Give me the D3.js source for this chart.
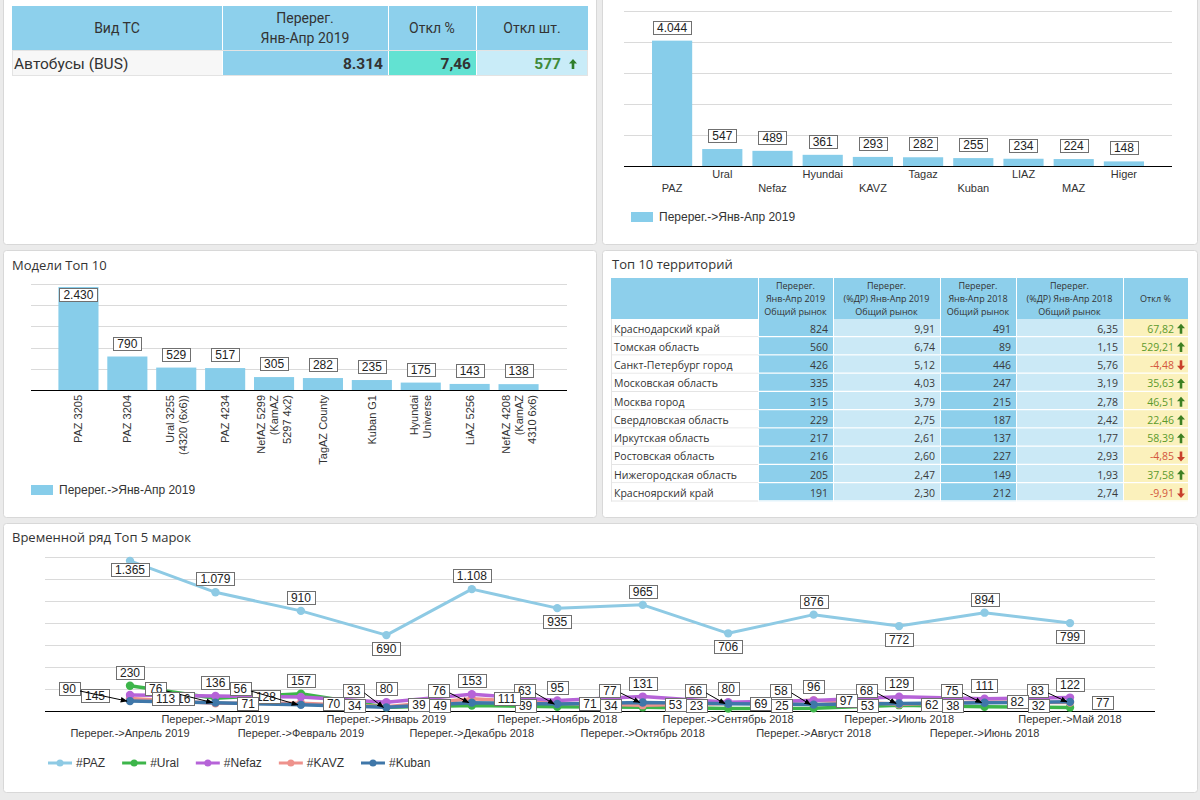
<!DOCTYPE html>
<html><head><meta charset="utf-8">
<script src="https://cdn.jsdelivr.net/npm/d3@7"></script>
<style>
html,body{margin:0;padding:0;background:#ebebeb;}
svg{display:block;}
</style></head><body>
<svg id="c" width="1200" height="800"></svg>
<script>
// ---------------- DATA ----------------
const kpiHeaders = ["Вид ТС", "Перерег.\nЯнв-Апр 2019", "Откл %", "Откл шт."];
const kpiCategory = ["Автобусы (BUS)"];
const kpiTotal = [8314];
const kpiDeltaPct = [7.46];
const kpiDeltaUnits = [577];

const brands = ["PAZ","Ural","Nefaz","Hyundai","KAVZ","Tagaz","Kuban","LIAZ","MAZ","Higer"];
const brandValues = [4044,547,489,361,293,282,255,234,224,148];
const brandTicks = [0,1000,2000,3000,4000,5000];

const models = ["PAZ 3205","PAZ 3204","Ural 3255\n(4320 (6x6))","PAZ 4234","NefAZ 5299\n(KamAZ\n5297 4x2)","TagAZ County","Kuban G1","Hyundai\nUniverse","LiAZ 5256","NefAZ 4208\n(KamAZ\n4310 6x6)"];
const modelValues = [2430,790,529,517,305,282,235,175,143,138];
const modelTicks = [0,500,1000,1500,2000,2500];

const legendLabel = "Перерег.->Янв-Апр 2019";

const territoryHeaders = ["", "Перерег.\nЯнв-Апр 2019\nОбщий рынок", "Перерег.\n(%ДР) Янв-Апр 2019\nОбщий рынок", "Перерег.\nЯнв-Апр 2018\nОбщий рынок", "Перерег.\n(%ДР) Янв-Апр 2018\nОбщий рынок", "Откл %"];
const regions = ["Краснодарский край","Томская область","Санкт-Петербург город","Московская область","Москва город","Свердловская область","Иркутская область","Ростовская область","Нижегородская область","Красноярский край"];
const reg2019 = [824,560,426,335,315,229,217,216,205,191];
const share2019 = [9.91,6.74,5.12,4.03,3.79,2.75,2.61,2.60,2.47,2.30];
const reg2018 = [491,89,446,247,215,187,137,227,149,212];
const share2018 = [6.35,1.15,5.76,3.19,2.78,2.42,1.77,2.93,1.93,2.74];
const regDeltaPct = [67.82,529.21,-4.48,35.63,46.51,22.46,58.39,-4.85,37.58,-9.91];

const tsPrefix = "Перерег.->";
const tsMonths = ["Апрель 2019","Март 2019","Февраль 2019","Январь 2019","Декабрь 2018","Ноябрь 2018","Октябрь 2018","Сентябрь 2018","Август 2018","Июль 2018","Июнь 2018","Май 2018"];
const tsPAZ   = [1365,1079,910,690,1108,935,965,706,876,772,894,799];
const tsUral  = [230,116,157,34,49,39,34,23,25,53,38,32];
const tsNefaz = [145,136,128,80,153,95,131,80,96,129,111,122];
const tsKAVZ  = [113,71,70,39,111,71,53,69,97,62,82,77];
const tsKuban = [90,76,56,33,76,63,77,66,58,68,75,83];
const tsSeriesNames = ["#PAZ","#Ural","#Nefaz","#KAVZ","#Kuban"];
const tsTicks = [0,200,400,600,800,1000,1200,1400];

// ---------------- STYLE ----------------
const CF = "'Liberation Sans', Arial, sans-serif";
const TF = "'Open Sans', sans-serif";
const RF = "Roboto, sans-serif";
const BAR = "#87cdea";
const GRID = "#dadada";
const TXT = "#333";
const seriesColors = ["#8ecae4","#3db54a","#b663d8","#ee928c","#3f77a9"];

const ru = d3.formatLocale({decimal:",", thousands:".", grouping:[3], currency:["",""], minus:"-"});
const fInt = ru.format(",d");
const f2 = ru.format(",.2f");

const svg = d3.select("#c");
svg.append("rect").attr("width",1200).attr("height",800).attr("fill","#ebebeb");

const defs = svg.append("defs");
defs.append("marker").attr("id","arr").attr("viewBox","0 0 10 10").attr("refX",9).attr("refY",5)
  .attr("markerWidth",7).attr("markerHeight",7).attr("orient","auto")
  .append("path").attr("d","M0,1 L10,5 L0,9 Z").attr("fill","#000");

// panels
const panels = [[3,-6,593,250],[602,-6,595,250],[3,250,593,267],[602,250,595,267],[3,523,1194,269]];
svg.selectAll("rect.panel").data(panels).join("rect").attr("class","panel")
  .attr("x",d=>d[0]+0.5).attr("y",d=>d[1]+0.5).attr("width",d=>d[2]).attr("height",d=>d[3])
  .attr("rx",3).attr("fill","#fff").attr("stroke","#d8d8d8");

function arrowGlyph(g, x, y, up, color){
  const p = up
    ? `M${x-4},${y-0.5} L${x},${y-5} L${x+4},${y-0.5} Z M${x-1.3},${y-1} h2.6 v6 h-2.6 Z`
    : `M${x-4},${y+0.5} L${x},${y+5} L${x+4},${y+0.5} Z M${x-1.3},${y+1} h2.6 v-6 h-2.6 Z`;
  g.append("path").attr("d",p).attr("fill",color);
}

function boxLabel(g, txt, o){
  const grp = g.append("g");
  const t = grp.append("text").attr("font-family",CF).attr("font-size",12).attr("fill","#222")
    .attr("text-anchor","middle").attr("dominant-baseline","central").text(txt);
  const w = t.node().getComputedTextLength() + 8, h = 13;
  let cx = o.cx;
  if (o.left != null) cx = o.left + w/2;
  if (o.right != null) cx = o.right - w/2;
  let cy = o.cy;
  if (o.bottom != null) cy = o.bottom - h/2;
  if (o.top != null) cy = o.top + h/2;
  t.attr("x",cx).attr("y",cy+0.5);
  grp.insert("rect","text").attr("x",Math.round(cx-w/2)+0.5).attr("y",Math.round(cy-h/2)+0.5)
    .attr("width",Math.round(w)).attr("height",h).attr("fill","#fff").attr("stroke","#707070");
  return {x0:cx-w/2, x1:cx+w/2, y0:cy-h/2, y1:cy+h/2, cx, cy};
}

// ---------------- KPI TABLE ----------------
(function(){
  const g = svg.append("g");
  const cols = [12,222,388,476,588];
  const hy0 = 6, hy1 = 50, ry1 = 76;
  const headFill = "#8dd0ec";
  kpiHeaders.forEach((h,i)=>{
    g.append("rect").attr("x",cols[i]).attr("y",hy0).attr("width",cols[i+1]-cols[i]).attr("height",hy1-hy0).attr("fill",headFill);
    const lines = h.split("\n");
    lines.forEach((l,j)=>{
      g.append("text").attr("x",(cols[i]+cols[i+1])/2).attr("y",(hy0+hy1)/2 + (j-(lines.length-1)/2)*20)
        .attr("text-anchor","middle").attr("dominant-baseline","central")
        .attr("font-family",RF).attr("font-size",14).attr("fill",TXT).text(l);
    });
  });
  cols.slice(1,-1).forEach(x=>g.append("line").attr("x1",x+0.5).attr("x2",x+0.5).attr("y1",hy0).attr("y2",hy1).attr("stroke","#fff"));
  const fills = ["#f7f7f7","#8dd0ec","#62e2d2","#c9ecf8"];
  fills.forEach((f,i)=>g.append("rect").attr("x",cols[i]).attr("y",hy1).attr("width",cols[i+1]-cols[i]).attr("height",ry1-hy1).attr("fill",f));
  cols.slice(1,-1).forEach(x=>g.append("line").attr("x1",x+0.5).attr("x2",x+0.5).attr("y1",hy1).attr("y2",ry1).attr("stroke","#fff"));
  g.append("rect").attr("x",cols[0]+0.5).attr("y",hy1+0.5).attr("width",cols[4]-cols[0]-1).attr("height",ry1-hy1-1).attr("fill","none").attr("stroke","#e3e3e3");
  const cy = (hy1+ry1)/2 + 1;
  g.append("text").attr("x",14).attr("y",cy).attr("dominant-baseline","central").attr("font-family",RF).attr("font-size",15.5).attr("fill",TXT).text(kpiCategory[0]);
  g.append("text").attr("x",cols[2]-5).attr("y",cy).attr("text-anchor","end").attr("dominant-baseline","central").attr("font-family",RF).attr("font-weight","bold").attr("font-size",15.5).attr("fill",TXT).text(fInt(kpiTotal[0]));
  g.append("text").attr("x",cols[3]-5).attr("y",cy).attr("text-anchor","end").attr("dominant-baseline","central").attr("font-family",RF).attr("font-weight","bold").attr("font-size",15.5).attr("fill",TXT).text(f2(kpiDeltaPct[0]));
  g.append("text").attr("x",cols[4]-27).attr("y",cy).attr("text-anchor","end").attr("dominant-baseline","central").attr("font-family",RF).attr("font-weight","bold").attr("font-size",15.5).attr("fill","#3f8a3a").text(fInt(kpiDeltaUnits[0]));
  arrowGlyph(g, cols[4]-15, cy, kpiDeltaUnits[0]>=0, "#2f7d2a");
})();

// ---------------- BRAND BAR CHART ----------------
(function(){
  const g = svg.append("g");
  const x = d3.scaleBand().domain(brands).range([647,1149]).paddingInner(0.2).paddingOuter(0.1);
  const y = d3.scaleLinear().domain([0,5000]).range([166,11]);
  g.selectAll("line.grid").data(brandTicks.slice(1)).join("line")
    .attr("x1",624).attr("x2",1172).attr("y1",d=>Math.round(y(d))+0.5).attr("y2",d=>Math.round(y(d))+0.5).attr("stroke",GRID);
  g.selectAll("rect.bar").data(brands).join("rect")
    .attr("x",d=>x(d)).attr("width",x.bandwidth())
    .attr("y",(d,i)=>y(brandValues[i])).attr("height",(d,i)=>y(0)-y(brandValues[i])).attr("fill",BAR);
  g.append("line").attr("x1",624).attr("x2",1172).attr("y1",166.5).attr("y2",166.5).attr("stroke","#000");
  brands.forEach((b,i)=>{
    boxLabel(g, fInt(brandValues[i]), {cx:x(b)+x.bandwidth()/2, bottom:y(brandValues[i])-7});
    g.append("text").attr("x",x(b)+x.bandwidth()/2).attr("y",i%2===0?188:174)
      .attr("text-anchor","middle").attr("dominant-baseline","central")
      .attr("font-family",CF).attr("font-size",11).attr("fill",TXT).text(b);
  });
  g.append("rect").attr("x",631).attr("y",212).attr("width",22).attr("height",10).attr("fill",BAR);
  g.append("text").attr("x",659).attr("y",217).attr("dominant-baseline","central")
    .attr("font-family",CF).attr("font-size",12).attr("fill",TXT).text(legendLabel);
})();

// ---------------- MODEL BAR CHART ----------------
(function(){
  const g = svg.append("g");
  g.append("text").attr("x",12).attr("y",265).attr("dominant-baseline","central")
    .attr("font-family",TF).attr("font-size",13).attr("fill",TXT).text("Модели Топ 10");
  const x = d3.scaleBand().domain(models).range([54,543]).paddingInner(0.18).paddingOuter(0.09);
  const y = d3.scaleLinear().domain([0,2500]).range([390,284]);
  g.selectAll("line.grid").data(modelTicks.slice(1)).join("line")
    .attr("x1",31).attr("x2",567).attr("y1",d=>Math.round(y(d))+0.5).attr("y2",d=>Math.round(y(d))+0.5).attr("stroke",GRID);
  g.selectAll("rect.bar").data(models).join("rect")
    .attr("x",d=>x(d)).attr("width",x.bandwidth())
    .attr("y",(d,i)=>y(modelValues[i])).attr("height",(d,i)=>y(0)-y(modelValues[i])).attr("fill",BAR);
  g.append("line").attr("x1",31).attr("x2",567).attr("y1",390.5).attr("y2",390.5).attr("stroke","#000");
  models.forEach((m,i)=>{
    const cx = x(m)+x.bandwidth()/2;
    const top = y(modelValues[i]);
    if (top - 7 - 13 < y(2500) - 2) boxLabel(g, fInt(modelValues[i]), {cx, top:top+1});
    else boxLabel(g, fInt(modelValues[i]), {cx, bottom:top-7});
    const lines = m.split("\n");
    const lg = g.append("g").attr("transform",`translate(${cx},395) rotate(-90)`);
    lines.forEach((l,j)=>{
      lg.append("text").attr("x",0).attr("y",(j-(lines.length-1)/2)*13)
        .attr("text-anchor","end").attr("dominant-baseline","central")
        .attr("font-family",CF).attr("font-size",11).attr("fill",TXT).text(l);
    });
  });
  g.append("rect").attr("x",31).attr("y",485).attr("width",22).attr("height",10).attr("fill",BAR);
  g.append("text").attr("x",59).attr("y",490).attr("dominant-baseline","central")
    .attr("font-family",CF).attr("font-size",12).attr("fill",TXT).text(legendLabel);
})();

// ---------------- TERRITORY TABLE ----------------
(function(){
  const g = svg.append("g");
  g.append("text").attr("x",612).attr("y",264).attr("dominant-baseline","central")
    .attr("font-family",TF).attr("font-size",13).attr("fill",TXT).text("Топ 10 территорий");
  const cols = [611,758,833,940,1016,1123,1188];
  const hy0 = 278, hy1 = 319, rh = 18.25;
  const headFill = "#8dcfeb";
  const colFill = ["#ffffff","#8dcfeb","#cbe9f6","#8dcfeb","#cbe9f6","#fbf1bc"];
  territoryHeaders.forEach((h,i)=>{
    g.append("rect").attr("x",cols[i]).attr("y",hy0).attr("width",cols[i+1]-cols[i]).attr("height",hy1-hy0).attr("fill",headFill);
    const lines = h ? h.split("\n") : [];
    lines.forEach((l,j)=>{
      g.append("text").attr("x",(cols[i]+cols[i+1])/2).attr("y",(hy0+hy1)/2+(j-(lines.length-1)/2)*13.3)
        .attr("text-anchor","middle").attr("dominant-baseline","central")
        .attr("font-family",TF).attr("font-size",9).attr("fill",TXT).text(l);
    });
  });
  cols.slice(1,-1).forEach(xx=>g.append("line").attr("x1",xx+0.5).attr("x2",xx+0.5).attr("y1",hy0).attr("y2",hy1).attr("stroke","#fff"));
  const rows = regions.map((r,i)=>[r, fInt(reg2019[i]), f2(share2019[i]), fInt(reg2018[i]), f2(share2018[i]), regDeltaPct[i]]);
  rows.forEach((row,ri)=>{
    const ry = hy1 + ri*rh;
    const cy = ry + rh/2 + 0.5;
    row.forEach((val,ci)=>{
      g.append("rect").attr("x",cols[ci]).attr("y",ry).attr("width",cols[ci+1]-cols[ci]).attr("height",rh).attr("fill",colFill[ci]);
    });
    g.append("line").attr("x1",cols[0]).attr("x2",cols[1]).attr("y1",ry+rh-0.5).attr("y2",ry+rh-0.5).attr("stroke","#e4e4e4");
    g.append("line").attr("x1",cols[1]).attr("x2",cols[6]).attr("y1",ry+rh-0.5).attr("y2",ry+rh-0.5).attr("stroke","#fff").attr("stroke-width",1.5);
    row.forEach((val,ci)=>{
      if (ci===0){
        g.append("text").attr("x",cols[0]+3).attr("y",cy).attr("dominant-baseline","central")
          .attr("font-family",TF).attr("font-size",10.5).attr("fill",TXT).text(val);
      } else if (ci<5){
        g.append("text").attr("x",cols[ci+1]-5).attr("y",cy).attr("text-anchor","end").attr("dominant-baseline","central")
          .attr("font-family",TF).attr("font-size",10.5).attr("fill","#3a3a3a").text(val);
      } else {
        const pos = val>=0;
        g.append("text").attr("x",cols[6]-14).attr("y",cy).attr("text-anchor","end").attr("dominant-baseline","central")
          .attr("font-family",TF).attr("font-size",10.5).attr("fill",pos?"#5c9a2c":"#d3573c").text(f2(val));
        arrowGlyph(g, cols[6]-7, cy, pos, pos?"#3d7f22":"#c8402c");
      }
    });
    cols.slice(1,-1).forEach(xx=>g.append("line").attr("x1",xx+0.5).attr("x2",xx+0.5).attr("y1",ry).attr("y2",ry+rh).attr("stroke","#fff"));
  });
  g.append("line").attr("x1",cols[0]+0.5).attr("x2",cols[0]+0.5).attr("y1",hy1).attr("y2",hy1+10*rh).attr("stroke","#e4e4e4");
})();

// ---------------- TIME SERIES ----------------
(function(){
  const g = svg.append("g");
  g.append("text").attr("x",12).attr("y",537).attr("dominant-baseline","central")
    .attr("font-family",TF).attr("font-size",13).attr("fill",TXT).text("Временной ряд Топ 5 марок");
  const x = d3.scalePoint().domain(tsMonths).range([130,1070]);
  const y = d3.scaleLinear().domain([0,1400]).range([711,557]);
  g.selectAll("line.grid").data(tsTicks.slice(1)).join("line")
    .attr("x1",45).attr("x2",1155).attr("y1",d=>Math.round(y(d))+0.5).attr("y2",d=>Math.round(y(d))+0.5).attr("stroke",GRID);
  g.append("line").attr("x1",45).attr("x2",1155).attr("y1",711.5).attr("y2",711.5).attr("stroke","#000");

  tsMonths.forEach((m,i)=>{
    g.append("text").attr("x",x(m)).attr("y",i%2===0?733:719).attr("text-anchor","middle").attr("dominant-baseline","central")
      .attr("font-family",CF).attr("font-size",11).attr("fill",TXT).text(tsPrefix+m);
  });

  const series = [tsPAZ, tsUral, tsNefaz, tsKAVZ, tsKuban];
  const drawOrder = [0,1,3,2,4];
  const line = d3.line().x((d,i)=>x(tsMonths[i])).y(d=>y(d));
  drawOrder.forEach(si=>{
    g.append("path").datum(series[si]).attr("d",line).attr("fill","none")
      .attr("stroke",seriesColors[si]).attr("stroke-width",si===0?3:3.5).attr("stroke-linejoin","round");
    g.selectAll(null).data(series[si]).join("circle")
      .attr("cx",(d,i)=>x(tsMonths[i])).attr("cy",d=>y(d)).attr("r",4.2).attr("fill",seriesColors[si]);
  });

  const lg = g.append("g");
  tsPAZ.forEach((v,i)=>{
    const prev = tsPAZ[i-1], next = tsPAZ[i+1];
    const isMin = (prev===undefined || v<prev) && (next===undefined || v<next);
    const xi = x(tsMonths[i]);
    if (!isMin && y(v)-7-13 >= 550) boxLabel(lg, fInt(v), {cx:xi, bottom:y(v)-7});
    else if (!isMin) boxLabel(lg, fInt(v), {cx:xi, top:y(v)+2});
    else boxLabel(lg, fInt(v), {cx:xi, top:y(v)+7});
  });
  const befores = [], arrows = [], tops = [], afters = [];
  tsMonths.forEach((m,i)=>{
    const xi = x(m);
    const u = tsUral[i], n = tsNefaz[i];
    tops.push({v:Math.max(u,n), xi});
    befores.push({v:Math.min(u,n), xi});
    afters.push({v:tsKAVZ[i], xi});
    arrows.push({v:tsKuban[i], xi});
  });
  const bBoxes = befores.map(d=>boxLabel(lg, fInt(d.v), {right:d.xi-21, cy:Math.min(y(d.v),705)}));
  arrows.forEach((d,i)=>{
    const b = bBoxes[i];
    let right = d.xi-22, cy = 690;
    if (b.y0 < cy+6.5+1) { right = b.x0 - 1; cy = 688; }
    const a = boxLabel(lg, fInt(d.v), {right, cy});
    lg.append("line").attr("x1",a.x1).attr("y1",a.cy+3).attr("x2",d.xi-3).attr("y2",y(d.v))
      .attr("stroke","#000").attr("stroke-width",1).attr("marker-end","url(#arr)");
  });
  tops.forEach(d=>boxLabel(lg, fInt(d.v), {cx:d.xi, bottom:y(d.v)-7}));
  afters.forEach(d=>boxLabel(lg, fInt(d.v), {left:d.xi+22, cy:Math.min(y(d.v),704)}));

  let lx = 48;
  tsSeriesNames.forEach((s,i)=>{
    g.append("line").attr("x1",lx).attr("x2",lx+24).attr("y1",763).attr("y2",763).attr("stroke",seriesColors[i]).attr("stroke-width",3);
    g.append("circle").attr("cx",lx+12).attr("cy",763).attr("r",3.5).attr("fill",seriesColors[i]);
    const t = g.append("text").attr("x",lx+28).attr("y",763).attr("dominant-baseline","central")
      .attr("font-family",CF).attr("font-size",12).attr("fill",TXT).text(s);
    lx += 28 + t.node().getComputedTextLength() + 17;
  });
})();
</script>
</body></html>
